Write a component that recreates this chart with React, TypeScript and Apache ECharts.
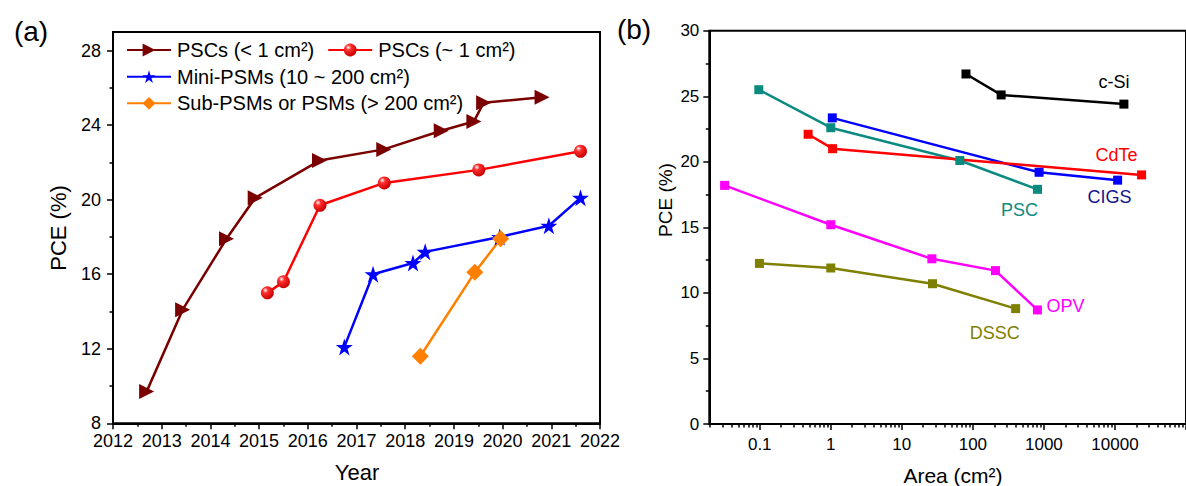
import React, { useEffect, useRef } from "react";
import * as echarts from "echarts";

const FONT = "'Liberation Sans', Arial, Helvetica, sans-serif";

// ---------- Panel (a): PCE vs Year ----------
const seriesNamesA = [
  "PSCs (< 1 cm²)",
  "PSCs (~ 1 cm²)",
  "Mini-PSMs (10 ~ 200 cm²)",
  "Sub-PSMs or PSMs (> 200 cm²)",
];
const yearsSmall = [2012.69, 2013.43, 2014.33, 2014.92, 2016.24, 2017.56, 2018.74, 2019.41, 2019.61, 2020.81];
const pceSmall = [9.7, 14.1, 17.9, 20.1, 22.1, 22.7, 23.7, 24.2, 25.2, 25.5];
const yearsOne = [2015.17, 2015.5, 2016.25, 2017.57, 2019.51, 2021.6];
const pceOne = [15.0, 15.6, 19.7, 20.9, 21.6, 22.6];
const yearsMini = [2016.75, 2017.34, 2018.16, 2018.41, 2019.94, 2020.95, 2021.6];
const pceMini = [12.1, 16.0, 16.6, 17.2, 18.0, 18.6, 20.1];
const yearsLarge = [2018.31, 2019.43, 2019.96];
const pceLarge = [11.6, 16.1, 17.9];

const yTicksA = [8, 12, 16, 20, 24, 28];
const yMinorA = [10, 14, 18, 22, 26];

// ---------- Panel (b): PCE vs Area ----------
const areaCSi = [80, 250, 13370];
const pceCSi = [26.7, 25.1, 24.4];
const areaPSC = [0.097, 1.0, 65.5, 812];
const pcePSC = [25.5, 22.6, 20.1, 17.9];
const areaCIGS = [1.05, 855, 10900];
const pceCIGS = [23.35, 19.2, 18.6];
const areaCdTe = [0.48, 1.06, 23700];
const pceCdTe = [22.1, 21.0, 19.0];
const areaOPV = [0.032, 1.0, 26.5, 208, 810];
const pceOPV = [18.2, 15.2, 12.6, 11.7, 8.7];
const areaDSSC = [0.099, 1.0, 27, 400];
const pceDSSC = [12.25, 11.9, 10.7, 8.8];

const areaTickLabels = [0.1, 1, 10, 100, 1000, 10000];

const STAR =
  "path://M12,0 L14.8,8.6 L23.8,8.6 L16.5,13.9 L19.3,22.5 L12,17.2 L4.7,22.5 L7.5,13.9 L0.2,8.6 L9.2,8.6 Z";

export default function App() {
  const ref = useRef<HTMLDivElement>(null);

  useEffect(() => {
    if (!ref.current) return;
    const chart = echarts.init(ref.current, undefined, { renderer: "svg" });

    const pair = (xs: number[], ys: number[]) => xs.map((x, i) => [x, ys[i]]);
    const logPair = (xs: number[], ys: number[]) => xs.map((x, i) => [Math.log10(x), ys[i]]);

    const withEndLabel = (
      pts: number[][],
      text: string,
      color: string,
      offset: number[]
    ) =>
      pts.map((p, i) =>
        i === pts.length - 1
          ? {
              value: p,
              label: {
                show: true,
                formatter: text,
                position: "inside",
                offset,
                color,
                fontSize: 18,
                fontFamily: FONT,
              },
            }
          : { value: p }
      );

    const logMin = -1.71;
    const logMax = 5;
    const minorLog: number[] = [];
    for (let n = -2; n <= 4; n++) {
      for (let k = 2; k <= 9; k++) {
        const v = Math.log10(k * Math.pow(10, n));
        if (v > logMin && v < logMax) minorLog.push(v);
      }
    }
    const majorLog = [-1, 0, 1, 2, 3, 4, 5];
    const labelLog = areaTickLabels.map((v) => Math.log10(v));

    const axisLabelBase = { color: "#000", fontFamily: FONT };
    const axisLineBase = { show: true, onZero: false, lineStyle: { color: "#000", width: 2 } };
    const tickStyle = { color: "#000", width: 1.5 };

    const redBall = new echarts.graphic.RadialGradient(0.35, 0.3, 0.7, [
      { offset: 0, color: "#ffffff" },
      { offset: 0.3, color: "#ff3030" },
      { offset: 1, color: "#c80000" },
    ]);

    const legendText = { color: "#000", fontSize: 20, lineHeight: 20, fontFamily: FONT, padding: [0, 0, 0, 1] };

    const option: any = {
      animation: false,
      backgroundColor: "#fff",
      grid: [
        {
          left: 113,
          top: 32,
          width: 487,
          height: 391.3,
          show: true,
          borderColor: "#000",
          borderWidth: 2,
          containLabel: false,
        },
        {
          left: 709.3,
          top: 30.7,
          width: (logMax - logMin) * 76.2,
          height: 393.3,
          show: true,
          borderColor: "#000",
          borderWidth: 2,
          containLabel: false,
        },
      ],
      xAxis: [
        {
          gridIndex: 0,
          type: "value",
          min: 2012,
          max: 2022,
          interval: 1,
          position: "bottom",
          axisLine: axisLineBase,
          axisTick: { show: true, inside: false, length: 6, lineStyle: tickStyle },
          minorTick: { show: true, splitNumber: 2, length: 3.5, lineStyle: tickStyle },
          axisLabel: { ...axisLabelBase, fontSize: 18, margin: 9, formatter: (v: number) => String(v) },
          splitLine: { show: false },
        },
        {
          gridIndex: 1,
          type: "value",
          min: logMin,
          max: logMax,
          position: "bottom",
          axisLine: axisLineBase,
          axisTick: {
            show: true,
            length: 6,
            customValues: majorLog,
            lineStyle: tickStyle,
          },
          axisLabel: {
            ...axisLabelBase,
            fontSize: 17,
            margin: 12,
            customValues: labelLog,
            formatter: (v: number) => {
              const p = Math.round(v);
              return p < 0 ? Math.pow(10, p).toFixed(-p) : String(Math.pow(10, p));
            },
          },
          splitLine: { show: false },
        },
        {
          gridIndex: 1,
          type: "value",
          min: logMin,
          max: logMax,
          position: "bottom",
          offset: 0,
          axisLine: { show: false, onZero: false },
          axisTick: {
            show: true,
            length: 3.5,
            customValues: minorLog,
            lineStyle: tickStyle,
          },
          axisLabel: { show: false },
          splitLine: { show: false },
        },
      ],
      yAxis: [
        {
          gridIndex: 0,
          type: "value",
          min: 8,
          max: 29,
          position: "left",
          axisLine: axisLineBase,
          axisTick: {
            show: true,
            length: 6,
            customValues: yTicksA,
            lineStyle: tickStyle,
          },
          axisLabel: { ...axisLabelBase, fontSize: 18, margin: 12, customValues: yTicksA },
          splitLine: { show: false },
        },
        {
          gridIndex: 0,
          type: "value",
          min: 8,
          max: 29,
          position: "left",
          offset: 0,
          axisLine: { show: false, onZero: false },
          axisTick: {
            show: true,
            length: 3.5,
            customValues: yMinorA,
            lineStyle: tickStyle,
          },
          axisLabel: { show: false },
          splitLine: { show: false },
        },
        {
          gridIndex: 1,
          type: "value",
          min: 0,
          max: 30,
          interval: 5,
          position: "left",
          axisLine: axisLineBase,
          axisTick: { show: true, length: 6, lineStyle: tickStyle },
          minorTick: { show: true, splitNumber: 2, length: 3.5, lineStyle: tickStyle },
          axisLabel: { ...axisLabelBase, fontSize: 17, margin: 10 },
          splitLine: { show: false },
        },
      ],
      legend: [
        {
          data: [seriesNamesA[0], seriesNamesA[1]],
          left: 126,
          top: 40,
          padding: 0,
          itemWidth: 44,
          itemHeight: 16,
          itemGap: 13,
          selectedMode: false,
          textStyle: legendText,
        },
        {
          data: [seriesNamesA[2]],
          left: 126,
          top: 66.7,
          padding: 0,
          itemWidth: 44,
          itemHeight: 16,
          selectedMode: false,
          textStyle: legendText,
        },
        {
          data: [seriesNamesA[3]],
          left: 126,
          top: 93.3,
          padding: 0,
          itemWidth: 44,
          itemHeight: 16,
          selectedMode: false,
          textStyle: legendText,
        },
      ],
      graphic: [
        { type: "text", x: 31, y: 31, style: { text: "(a)", font: `28px ${FONT}`, fill: "#000", textAlign: "center", textVerticalAlign: "middle" } },
        { type: "text", x: 634, y: 29, style: { text: "(b)", font: `28px ${FONT}`, fill: "#000", textAlign: "center", textVerticalAlign: "middle" } },
        { type: "text", x: 58, y: 228, rotation: Math.PI / 2, style: { text: "PCE (%)", font: `22px ${FONT}`, fill: "#000", textAlign: "center", textVerticalAlign: "middle" } },
        { type: "text", x: 357, y: 472, style: { text: "Year", font: `22px ${FONT}`, fill: "#000", textAlign: "center", textVerticalAlign: "middle" } },
        { type: "text", x: 665, y: 200, rotation: Math.PI / 2, style: { text: "PCE (%)", font: `19px ${FONT}`, fill: "#000", textAlign: "center", textVerticalAlign: "middle" } },
        { type: "text", x: 953, y: 475, style: { text: "Area (cm²)", font: `21px ${FONT}`, fill: "#000", textAlign: "center", textVerticalAlign: "middle" } },
      ],
      series: [
        {
          name: seriesNamesA[0],
          type: "line",
          xAxisIndex: 0,
          yAxisIndex: 0,
          data: pair(yearsSmall, pceSmall),
          symbol: "triangle",
          symbolRotate: -90,
          symbolSize: 15,
          lineStyle: { color: "#7a0000", width: 2.5 },
          itemStyle: { color: "#7a0000" },
        },
        {
          name: seriesNamesA[1],
          type: "line",
          xAxisIndex: 0,
          yAxisIndex: 0,
          data: pair(yearsOne, pceOne),
          symbol: "circle",
          symbolSize: 13,
          lineStyle: { color: "#ff0000", width: 2.5 },
          itemStyle: { color: redBall },
        },
        {
          name: seriesNamesA[2],
          type: "line",
          xAxisIndex: 0,
          yAxisIndex: 0,
          data: pair(yearsMini, pceMini),
          symbol: STAR,
          symbolSize: 17,
          lineStyle: { color: "#0000ff", width: 2.5 },
          itemStyle: { color: "#0000ff" },
        },
        {
          name: seriesNamesA[3],
          type: "line",
          xAxisIndex: 0,
          yAxisIndex: 0,
          data: pair(yearsLarge, pceLarge),
          symbol: "diamond",
          symbolSize: 17,
          lineStyle: { color: "#ff8000", width: 2.5 },
          itemStyle: { color: "#ff8000" },
        },
        // Panel (b)
        {
          name: "c-Si",
          type: "line",
          xAxisIndex: 1,
          yAxisIndex: 2,
          data: withEndLabel(logPair(areaCSi, pceCSi), "c-Si", "#000", [-10, -22]),
          symbol: "rect",
          symbolSize: 9,
          lineStyle: { color: "#000", width: 2.5 },
          itemStyle: { color: "#000" },
        },
        {
          name: "PSC",
          type: "line",
          xAxisIndex: 1,
          yAxisIndex: 2,
          data: withEndLabel(logPair(areaPSC, pcePSC), "PSC", "#0b8a80", [-18, 21]),
          symbol: "rect",
          symbolSize: 9,
          lineStyle: { color: "#0b8a80", width: 2.5 },
          itemStyle: { color: "#0b8a80" },
        },
        {
          name: "CIGS",
          type: "line",
          xAxisIndex: 1,
          yAxisIndex: 2,
          data: withEndLabel(logPair(areaCIGS, pceCIGS), "CIGS", "#14148c", [-8, 17]),
          symbol: "rect",
          symbolSize: 9,
          lineStyle: { color: "#0000ff", width: 2.5 },
          itemStyle: { color: "#0000ff" },
        },
        {
          name: "CdTe",
          type: "line",
          xAxisIndex: 1,
          yAxisIndex: 2,
          data: withEndLabel(logPair(areaCdTe, pceCdTe), "CdTe", "#ff0000", [-25, -20]),
          symbol: "rect",
          symbolSize: 9,
          lineStyle: { color: "#ff0000", width: 2.5 },
          itemStyle: { color: "#ff0000" },
        },
        {
          name: "OPV",
          type: "line",
          xAxisIndex: 1,
          yAxisIndex: 2,
          data: withEndLabel(logPair(areaOPV, pceOPV), "OPV", "#ff00ff", [28, -4]),
          symbol: "rect",
          symbolSize: 9,
          lineStyle: { color: "#ff00ff", width: 2.5 },
          itemStyle: { color: "#ff00ff" },
        },
        {
          name: "DSSC",
          type: "line",
          xAxisIndex: 1,
          yAxisIndex: 2,
          data: withEndLabel(logPair(areaDSSC, pceDSSC), "DSSC", "#808000", [-21, 24]),
          symbol: "rect",
          symbolSize: 9,
          lineStyle: { color: "#808000", width: 2.5 },
          itemStyle: { color: "#808000" },
        },
      ],
    };

    chart.setOption(option);
    return () => chart.dispose();
  }, []);

  return (
    <div
      ref={ref}
      style={{ position: "absolute", left: 0, top: 0, width: 1186, height: 486, background: "#fff" }}
    />
  );
}
